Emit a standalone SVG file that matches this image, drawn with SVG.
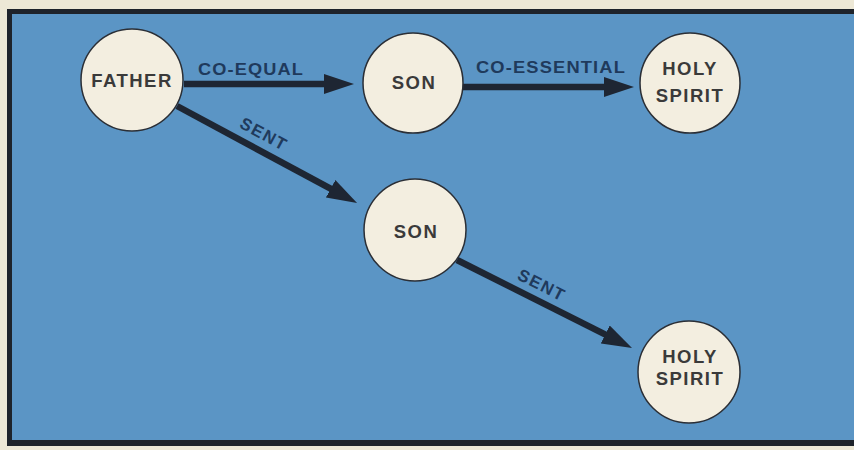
<svg xmlns="http://www.w3.org/2000/svg" width="854" height="450" viewBox="0 0 854 450">
  <style>
    .node circle { fill: #f3eee0; stroke: #2b2f36; stroke-width: 1.5; }
    .node text { font-family: "Liberation Sans", Arial, sans-serif; font-weight: bold; font-size: 18.5px; fill: #3a3a3a; text-anchor: middle; letter-spacing: 1.5px; }
    .lbl { font-family: "Liberation Sans", Arial, sans-serif; font-weight: bold; font-size: 16px; fill: #1f3a5c; text-anchor: middle; letter-spacing: 1px; }
    .sent { font-size: 17px; letter-spacing: 1.5px; }
    .edge { stroke: #1e2633; stroke-width: 6.5; fill: none; marker-end: url(#ah); }
  </style>
  <defs>
    <marker id="ah" markerUnits="userSpaceOnUse" markerWidth="32" markerHeight="22" refX="2" refY="11" orient="auto">
      <path d="M0,1 L30,11 L0,21 z" fill="#1e2633"/>
    </marker>
  </defs>
  <rect x="0" y="0" width="854" height="450" fill="#ede8d6"/>
  <rect x="7" y="9" width="847" height="437" fill="#1e232b"/>
  <rect x="12" y="14" width="842" height="426" fill="#5b95c5"/>

  <g id="connectors">
    <line class="edge" x1="184" y1="84" x2="326" y2="84"/>
    <line class="edge" x1="463" y1="87" x2="606" y2="87"/>
    <line class="edge" x1="177" y1="106" x2="332.4" y2="189.7"/>
    <line class="edge" x1="457" y1="260" x2="607" y2="335.4"/>
    <text class="lbl" x="251" y="75" textLength="106" lengthAdjust="spacingAndGlyphs">CO-EQUAL</text>
    <text class="lbl" x="551" y="73" textLength="150" lengthAdjust="spacingAndGlyphs">CO-ESSENTIAL</text>
    <text class="lbl sent" transform="translate(264,134) rotate(28.3)" x="0" y="6">SENT</text>
    <text class="lbl sent" transform="translate(542,285) rotate(26.7)" x="0" y="6">SENT</text>
  </g>

  <g id="father" class="node">
    <circle cx="132" cy="80" r="51"/>
    <text x="132" y="87">FATHER</text>
  </g>
  <g id="son-top" class="node">
    <circle cx="413" cy="83" r="50"/>
    <text x="414" y="89">SON</text>
  </g>
  <g id="spirit-top" class="node">
    <circle cx="690" cy="83" r="50"/>
    <text x="690" y="75">HOLY</text>
    <text x="690" y="102">SPIRIT</text>
  </g>
  <g id="son-mid" class="node">
    <circle cx="415" cy="230" r="51"/>
    <text x="416" y="238">SON</text>
  </g>
  <g id="spirit-bottom" class="node">
    <circle cx="689" cy="372" r="51"/>
    <text x="690" y="363">HOLY</text>
    <text x="690" y="385">SPIRIT</text>
  </g>
</svg>
